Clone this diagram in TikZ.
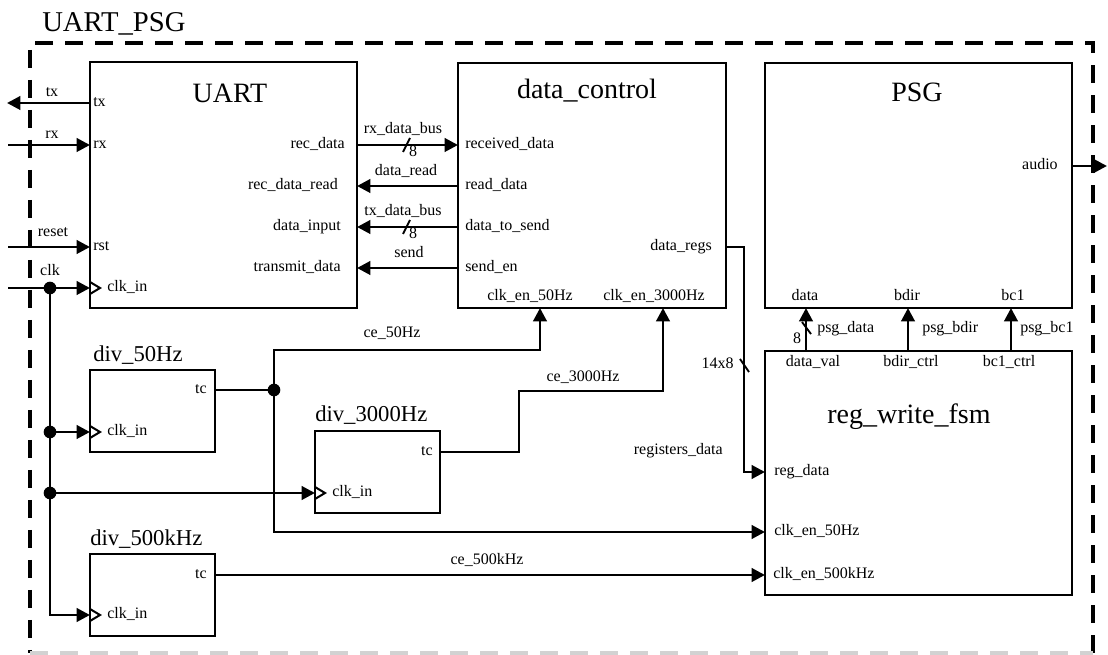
\documentclass[tikz,border=0pt]{standalone}
\usepackage{fontspec}
\setmainfont{Liberation Serif}
\usetikzlibrary{arrows.meta}

\begin{document}
\begin{tikzpicture}[
  x=0.75pt, y=-0.75pt,
  block/.style={draw, line width=2.2pt, inner sep=0pt},
  wire/.style={line width=2.2pt},
  busmark/.style={line width=1.4pt},
  clkmark/.style={line width=1.5pt},
  frame/.style={line width=2.4pt, dash pattern=on 13.5pt off 9pt},
  port/.style={inner sep=0pt, font=\fontsize{12}{14}\selectfont, text height=1.5ex, text depth=.25ex},
  blocktitle/.style={inner sep=0pt, font=\fontsize{21}{25}\selectfont, anchor=base},
  divtitle/.style={inner sep=0pt, font=\fontsize{17}{20}\selectfont, anchor=base west},
  dot/.style={circle, fill, inner sep=0pt, minimum size=9.5pt},
  >={Triangle[length=10pt,width=10pt]}
]
\useasboundingbox (0,0) rectangle (1108,655);

% outer dashed frame of the top level
\draw[frame] (1093,653) |- (30,43) -- (30,653);
\draw[frame, gray!35] (30,653) -- (1093,653);
\node[inner sep=0pt, font=\fontsize{21.5}{25}\selectfont, anchor=base west] (top) at (42,32) {UART\_PSG};

% -- blocks
\node[block, minimum width=200.25pt, minimum height=184.5pt] (uart) at (223.5,185) {};
\node[block, minimum width=201pt, minimum height=183.75pt] (dc) at (592,185.5) {};
\node[block, minimum width=230.25pt, minimum height=183.75pt] (psg) at (918.5,185.5) {};
\node[block, minimum width=230.25pt, minimum height=183pt] (fsm) at (918.5,473) {};
\node[block, minimum width=93.75pt, minimum height=61.5pt] (d50) at (152.5,411) {};
\node[block, minimum width=93.75pt, minimum height=61.5pt] (d3k) at (377.5,472) {};
\node[block, minimum width=93.75pt, minimum height=61.5pt] (d500) at (152.5,595) {};

\node[blocktitle] (uart-t) at (230,103) {UART};
\node[blocktitle] (dc-t) at (587,99) {data\_control};
\node[blocktitle] (psg-t) at (917,102) {PSG};
\node[blocktitle] (fsm-t) at (909,424) {reg\_write\_fsm};
\node[divtitle] (d50-t) at (93,362) {div\_50Hz};
\node[divtitle] (d3k-t) at (315,422) {div\_3000Hz};
\node[divtitle] (d500-t) at (90,546) {div\_500kHz};

% -- port points
\coordinate (uart-tx) at (90,103);
\coordinate (uart-rx) at (90,145);
\coordinate (uart-rst) at (90,247);
\coordinate (uart-clk) at (90,288);
\coordinate (uart-rec) at (357,145);
\coordinate (uart-recrd) at (357,186);
\coordinate (uart-din) at (357,227);
\coordinate (uart-tmt) at (357,268);
\coordinate (dc-rcv) at (458,145);
\coordinate (dc-rd) at (458,186);
\coordinate (dc-send) at (458,227);
\coordinate (dc-en) at (458,268);
\coordinate (dc-regs) at (726,247);
\coordinate (dc-ce50) at (540,308);
\coordinate (dc-ce3k) at (663,308);
\coordinate (psg-audio) at (1072,166);
\coordinate (psg-data) at (806,308);
\coordinate (psg-bdir) at (908,308);
\coordinate (psg-bc1) at (1011,308);
\coordinate (fsm-data) at (806,351);
\coordinate (fsm-bdir) at (908,351);
\coordinate (fsm-bc1) at (1011,351);
\coordinate (fsm-reg) at (765,472);
\coordinate (fsm-ce50) at (765,532);
\coordinate (fsm-ce500) at (765,575);
\coordinate (d50-tc) at (215,390);
\coordinate (d50-clk) at (90,432);
\coordinate (d3k-tc) at (440,452);
\coordinate (d3k-clk) at (315,493);
\coordinate (d500-tc) at (215,575);
\coordinate (d500-clk) at (90,615);
\coordinate (tx-out) at (7,103);
\coordinate (rx-in) at (8,145);
\coordinate (reset-in) at (8,247);
\coordinate (clk-src) at (8,288);
\coordinate (audio-out) at (1107,166);
\coordinate (c3k) at (519,391);

% -- port labels
\node[port, anchor=west] (p-tx) at (93,103) {tx};
\node[port, anchor=west] (p-rx) at (93,145) {rx};
\node[port, anchor=west] (p-rst) at (93,247) {rst};
\node[port, anchor=west] (p-clk) at (107,288) {clk\_in};
\node[port, anchor=east] (p-rec) at (345,145) {rec\_data};
\node[port, anchor=east] (p-recrd) at (338,186) {rec\_data\_read};
\node[port, anchor=east] (p-din) at (341,227) {data\_input};
\node[port, anchor=east] (p-tmt) at (341,268) {transmit\_data};

\node[port, anchor=west] (p-rcv) at (465,145) {received\_data};
\node[port, anchor=west] (p-rd) at (465,186) {read\_data};
\node[port, anchor=west] (p-send) at (465,227) {data\_to\_send};
\node[port, anchor=west] (p-en) at (465,268) {send\_en};
\node[port, anchor=east] (p-regs) at (712,247) {data\_regs};
\node[port] (p-ce50) at (530,297) {clk\_en\_50Hz};
\node[port] (p-ce3k) at (654,297) {clk\_en\_3000Hz};

\node[port, anchor=east] (p-audio) at (1058,166) {audio};
\node[port] (p-data) at (805,297) {data};
\node[port] (p-bdir) at (907,297) {bdir};
\node[port] (p-bc1) at (1013,297) {bc1};

\node[port] (p-dval) at (813,363) {data\_val};
\node[port] (p-bdirc) at (911,363) {bdir\_ctrl};
\node[port] (p-bc1c) at (1009,363) {bc1\_ctrl};
\node[port, anchor=west] (p-reg) at (774,472) {reg\_data};
\node[port, anchor=west] (p-fce50) at (774,532) {clk\_en\_50Hz};
\node[port, anchor=west] (p-fce500) at (773,575) {clk\_en\_500kHz};

\node[port, anchor=east] (p-d50tc) at (207,390) {tc};
\node[port, anchor=west] (p-d50clk) at (107,432) {clk\_in};
\node[port, anchor=east] (p-d3ktc) at (433,452) {tc};
\node[port, anchor=west] (p-d3kclk) at (332,493) {clk\_in};
\node[port, anchor=east] (p-d500tc) at (207,575) {tc};
\node[port, anchor=west] (p-d500clk) at (107,615) {clk\_in};

% clock inputs get the little open triangle
\foreach \c in {uart-clk, d50-clk, d3k-clk, d500-clk}
  \draw[clkmark] (\c) ++(0,-6) -- ++(10,6) -- ++(-10,6);

% -- top level pins
\draw[wire,->] (uart-tx) -- (tx-out);
\draw[wire,->] (rx-in) -- (uart-rx);
\draw[wire,->] (reset-in) -- (uart-rst);
\draw[wire,->] (clk-src) -- (uart-clk);
\draw[wire,->] (psg-audio) -- (audio-out);
\node[port] (w-tx) at (52,93) {tx};
\node[port] (w-rx) at (52,135) {rx};
\node[port] (w-reset) at (53,233) {reset};
\node[port] (w-clk) at (50,272) {clk};

% -- UART <-> data_control
\draw[wire,->] (uart-rec) -- (dc-rcv);
\draw[wire,->] (dc-rd) -- (uart-recrd);
\draw[wire,->] (dc-send) -- (uart-din);
\draw[wire,->] (dc-en) -- (uart-tmt);
\node[port] (w-rxbus) at (403,130) {rx\_data\_bus};
\node[port] (w-rdd) at (406,172) {data\_read};
\node[port] (w-txbus) at (403,212) {tx\_data\_bus};
\node[port] (w-send) at (409,254) {send};
\draw[busmark] (403,152) -- (410,138);
\draw[busmark] (403,234) -- (410,220);
\node[port] (w-rx8) at (413,153) {8};
\node[port] (w-tx8) at (413,235) {8};

% -- data_control -> reg_write_fsm -> PSG
\draw[wire,->] (dc-regs) -- ++(18,0) |- (fsm-reg);
\draw[busmark] (740,359) -- (749,372);
\node[port, anchor=east] (w-14x8) at (734,365) {14x8};
\node[port, anchor=east] (w-regs) at (723,451) {registers\_data};

\draw[wire,->] (fsm-data) -- (psg-data);
\draw[wire,->] (fsm-bdir) -- (psg-bdir);
\draw[wire,->] (fsm-bc1) -- (psg-bc1);
\draw[busmark] (802,322) -- (811,334);
\node[port] (w-psg8) at (797,340) {8};
\node[port, anchor=west] (w-psgd) at (817,329) {psg\_data};
\node[port, anchor=west] (w-psgb) at (922,329) {psg\_bdir};
\node[port, anchor=west] (w-psgc) at (1020,329) {psg\_bc1};

% -- clock tree
\node[dot] (j1) at (50,288) {};
\node[dot] (j2) at (50,432) {};
\node[dot] (j3) at (50,493) {};
\draw[wire,->] (j1.center) |- (d500-clk);
\draw[wire,->] (j2.center) -- (d50-clk);
\draw[wire,->] (j3.center) -- (d3k-clk);

% -- clock enables
\node[dot] (j50) at (274,390) {};
\draw[wire] (d50-tc) -- (j50.center);
\draw[wire,->] (j50.center) -- ++(0,-40) -| (dc-ce50);
\draw[wire,->] (j50.center) |- (fsm-ce50);
\draw[wire,->] (d3k-tc) -| (c3k) -| (dc-ce3k);
\draw[wire,->] (d500-tc) -- (fsm-ce500);
\node[port] (w-ce50) at (392,334) {ce\_50Hz};
\node[port] (w-ce3k) at (583,378) {ce\_3000Hz};
\node[port] (w-ce500) at (487,561) {ce\_500kHz};
\end{tikzpicture}
\end{document}
